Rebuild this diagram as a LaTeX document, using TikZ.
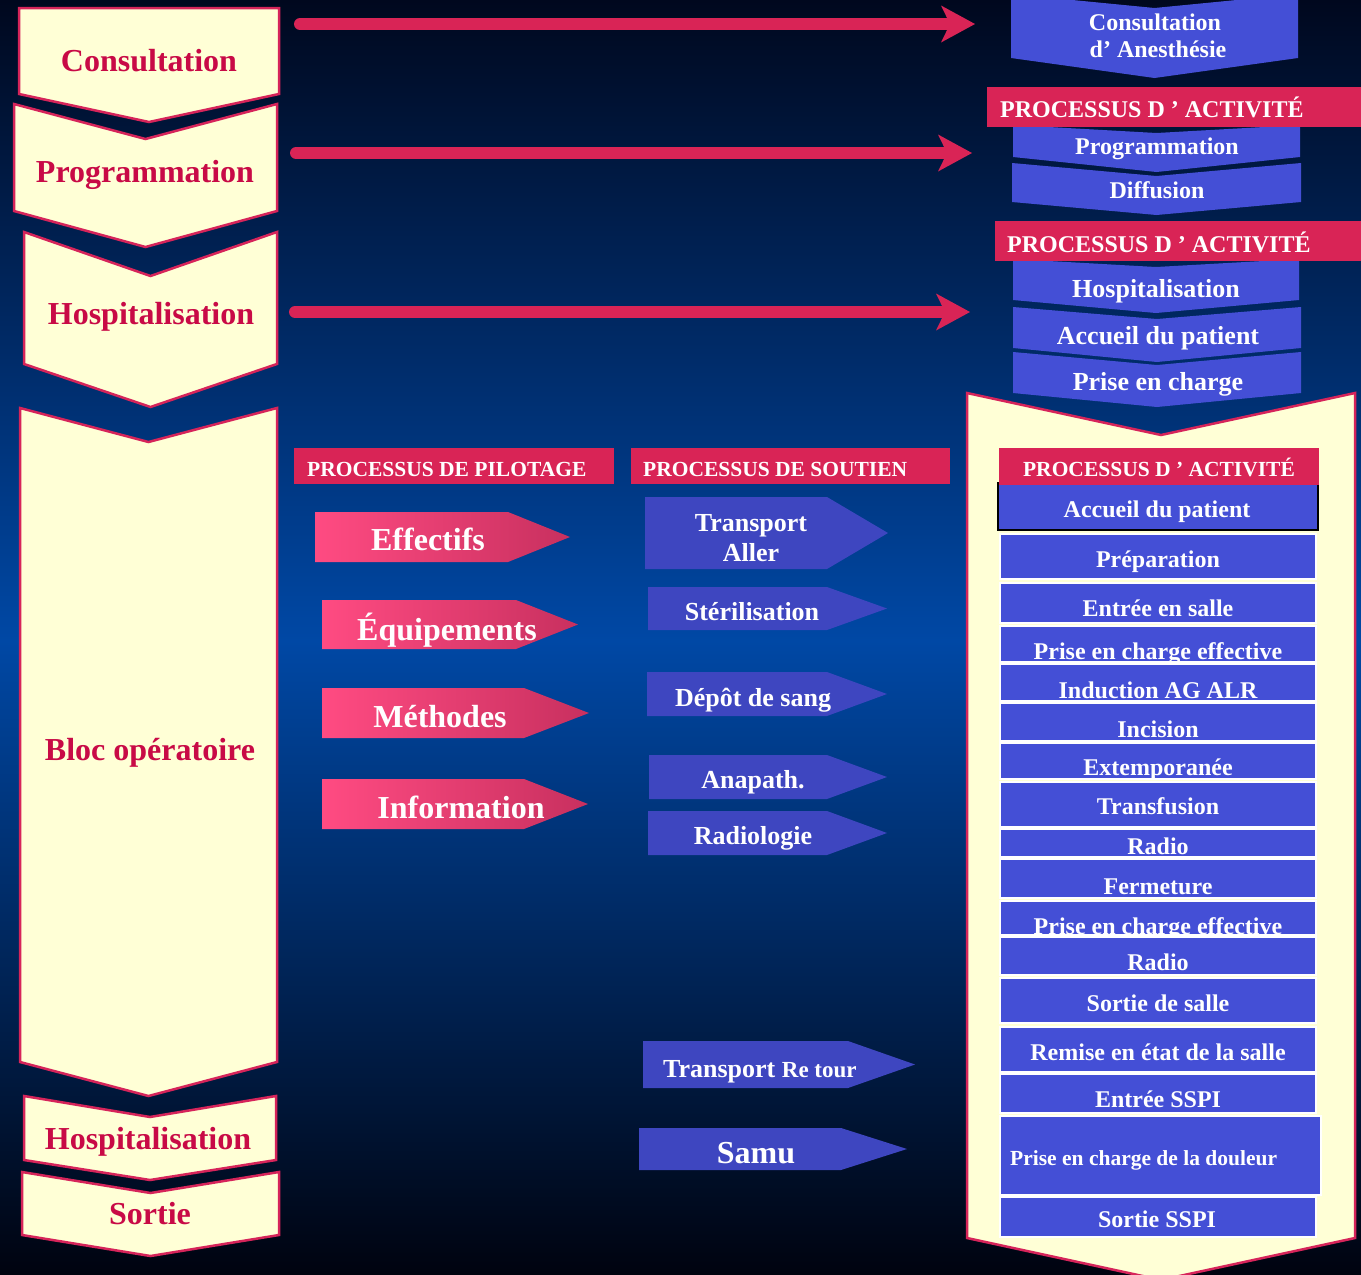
\documentclass[tikz,border=0pt]{standalone}
\usepackage{fontspec}
\setmainfont{Liberation Serif}
\usetikzlibrary{arrows.meta}
\definecolor{bgtop}{RGB}{0,8,30}
\definecolor{bgmid}{RGB}{0,72,165}
\definecolor{bgbot}{RGB}{0,3,15}
\definecolor{yfill}{RGB}{255,255,214}
\definecolor{crim}{RGB}{214,36,90}
\definecolor{crimtxt}{RGB}{200,10,70}
\definecolor{hdrred}{RGB}{217,36,86}
\definecolor{boxblue}{RGB}{68,79,214}
\definecolor{arrblue}{RGB}{62,70,192}
\definecolor{pinkA}{RGB}{255,75,130}
\definecolor{pinkB}{RGB}{200,48,95}
\newcommand\pxsize[1]{\fontsize{#1}{#1}\selectfont}
\newcommand\chevshape[7]{%
  \path[#1] (#2,#4) -- ({(#2+#3)/2},{#4+#5}) -- (#3,#4) -- (#3,#6) -- ({(#2+#3)/2},{#6+#7}) -- (#2,#6) -- cycle;}
\newcommand\pentashape[6]{%
  \path[#1] (#2,#5) -- (#3,#5) -- (#4,{(#5+#6)/2}) -- (#3,#6) -- (#2,#6) -- cycle;}
\begin{document}
\begin{tikzpicture}[x=1pt,y=-1pt,
  ychev/.style={fill=yfill,draw=crim,line width=2.5pt,line join=miter},
  bchev/.style={fill=boxblue},
  ylab/.style={text=crimtxt,font=\bfseries\pxsize{32},inner sep=0pt,anchor=mid,yshift=-9.6pt},
  wlab/.style={text=white,font=\bfseries\pxsize{#1},inner sep=0pt,anchor=mid,yshift=-0.3*#1pt},
  wlab/.default=24,
  hlab/.style={text=white,font=\bfseries\pxsize{#1},inner sep=0pt,anchor=mid west,yshift=-0.3*#1pt},
  hdrbox/.style={fill=hdrred},
  itembox/.style={fill=boxblue,draw=white,line width=1.5pt},
  pinkarr/.style={left color=pinkA,right color=pinkB},
  bluearr/.style={fill=arrblue},
  redarrow/.style={draw=hdrred,line width=12pt,line cap=round,
    -{Stealth[length=34pt,width=37pt,inset=9pt,line width=0pt]}}
]
\useasboundingbox (0,0) rectangle (1361,1275);
\begin{scope}
\clip (0,0) rectangle (1361,1275);
% background
\fill[top color=bgtop,bottom color=bgmid] (0,0) rectangle (1361,641);
\fill[top color=bgmid,bottom color=bgbot] (0,640) rectangle (1361,1275);

% left chevrons
\chevshape{ychev}{19}{279}{8}{0}{94}{28}
\node[ylab] (consult) at (149,60) {Consultation};
\chevshape{ychev}{14}{277}{104}{35}{211}{36}
\node[ylab] (prog) at (145,171) {Programmation};
\chevshape{ychev}{24}{277}{232}{44}{364}{43}
\node[ylab] (hosp) at (151,313) {Hospitalisation};
\chevshape{ychev}{20}{277}{408}{34}{1062}{34}
\node[ylab] (bloc) at (150,749) {Bloc opératoire};
\chevshape{ychev}{24}{276}{1096}{21}{1160}{20}
\node[ylab] (hosp2) at (148,1138) {Hospitalisation};
\chevshape{ychev}{22}{279}{1172}{21}{1235}{21}
\node[ylab] (sortie) at (150,1213) {Sortie};

% right top column
\chevshape{bchev}{1011}{1298}{-6}{14}{58}{20}
\node[wlab=24] (cda1) at (1155,21.5) {Consultation};
\node[wlab=24] (cda2) at (1158,48) {d’ Anesthésie};
\chevshape{bchev}{1013}{1300}{125}{8}{157}{15}
\node[wlab=24] (rprog) at (1157,145) {Programmation};
\chevshape{bchev}{1012}{1301}{163}{13}{202}{13}
\node[wlab=24] (rdiff) at (1157,188.5) {Diffusion};
\fill[hdrbox] (987,87) rectangle (1361,127);
\node[hlab=24] (hdr1) at (1000,108.5) {PROCESSUS D ’ ACTIVITÉ};
\chevshape{bchev}{1013}{1299}{259}{8}{300}{13}
\node[wlab=26] (rhosp) at (1156,287) {Hospitalisation};
\chevshape{bchev}{1013}{1301}{307}{12}{348}{14}
\node[wlab=26] (racc) at (1158,334) {Accueil du patient};
\chevshape{bchev}{1013}{1301}{352}{13}{393}{14}
\node[wlab=26] (rpec) at (1158,380) {Prise en charge};
\fill[hdrbox] (995,221) rectangle (1361,261);
\node[hlab=24] (hdr2) at (1007,243) {PROCESSUS D ’ ACTIVITÉ};

% red arrows
\coordinate (a1s) at (300,24);  \coordinate (a1e) at (975,24);
\coordinate (a2s) at (296,153); \coordinate (a2e) at (972,153);
\coordinate (a3s) at (295,312); \coordinate (a3e) at (970,312);
\draw[redarrow] (a1s) -- (a1e);
\draw[redarrow] (a2s) -- (a2e);
\draw[redarrow] (a3s) -- (a3e);

% big right chevron (bloc)
\chevshape{ychev}{967}{1355}{393}{42}{1238}{42}
\draw[fill=boxblue,draw=black,line width=2.5pt] (998,483) rectangle (1318,530);
\node[wlab=24] (lacc) at (1157,508) {Accueil du patient};
\fill[hdrbox] (999,448) rectangle (1319,485);
\node[wlab=21.5] (hdr3) at (1159,467.5) {PROCESSUS D ’ ACTIVITÉ};
\foreach \nm/\tp/\bt/\ty/\lb in {
  lprep/534/579/558/{Préparation},
  lentree/583/623/607/{Entrée en salle},
  lpec/626/662/650/{Prise en charge effective},
  lind/664/701/689/{Induction AG ALR},
  linc/703/741/728/{Incision},
  lext/743/779/766/{Extemporanée},
  ltrans/782/827/805/{Transfusion},
  lradio/829/857/845/{Radio},
  lferm/859/898/884.5/{Fermeture},
  lpec2/901/935/924.5/{Prise en charge effective},
  lradio2/937/975/961/{Radio},
  lsortie/978/1023/1001.5/{Sortie de salle},
  lremise/1027/1072/1051/{Remise en état de la salle},
  lsspi/1074/1113/1098/{Entrée SSPI}}{
  \draw[itembox] (1000,\tp) rectangle (1316,\bt);
  \node[wlab=24] (\nm) at (1158,\ty) {\lb};
}
\draw[itembox] (1000,1116) rectangle (1321,1195);
\node[hlab=21.5] (ldoul) at (1010,1156.5) {Prise en charge de la douleur};
\draw[itembox] (1000,1197) rectangle (1316,1237);
\node[wlab=24] (lsspiout) at (1157,1218) {Sortie SSPI};

% middle headers
\fill[hdrbox] (294,448) rectangle (614,484);
\node[hlab=21.5] (hpil) at (307,467.5) {PROCESSUS DE PILOTAGE};
\fill[hdrbox] (631,448) rectangle (950,484);
\node[hlab=21.5] (hsout) at (643,467.5) {PROCESSUS DE SOUTIEN};

% pilotage arrows
\pentashape{pinkarr}{315}{508}{570}{512}{562}
\node[wlab=32] (eff) at (428,539) {Effectifs};
\pentashape{pinkarr}{322}{516}{578}{600}{649}
\node[wlab=32] (equ) at (447,629) {Équipements};
\pentashape{pinkarr}{322}{524}{589}{688}{738}
\node[wlab=32] (meth) at (440,715.5) {Méthodes};
\pentashape{pinkarr}{322}{524}{588}{779}{829}
\node[wlab=32] (info) at (461,806.5) {Information};

% soutien arrows
\pentashape{bluearr}{645}{827}{888}{497}{569}
\node[wlab=26] (tra1) at (751,521) {Transport};
\node[wlab=26] (tra2) at (751,551) {Aller};
\pentashape{bluearr}{648}{827}{887}{587}{630}
\node[wlab=26] (ster) at (752,610.5) {Stérilisation};
\pentashape{bluearr}{647}{827}{887}{672}{716}
\node[wlab=26] (depot) at (753,696.5) {Dépôt de sang};
\pentashape{bluearr}{649}{827}{887}{755}{799}
\node[wlab=26] (anap) at (753,778.5) {Anapath.};
\pentashape{bluearr}{648}{827}{887}{811}{855}
\node[wlab=26] (radl) at (753,834.5) {Radiologie};
\pentashape{bluearr}{643}{848}{915}{1041}{1088}
\node[hlab=26] (traret) at (663,1067) {Transport {\pxsize{23}Re tour}};
\pentashape{bluearr}{639}{841}{907}{1128}{1170}
\node[wlab=32] (samu) at (756,1152) {Samu};
\end{scope}
\end{tikzpicture}
\end{document}
